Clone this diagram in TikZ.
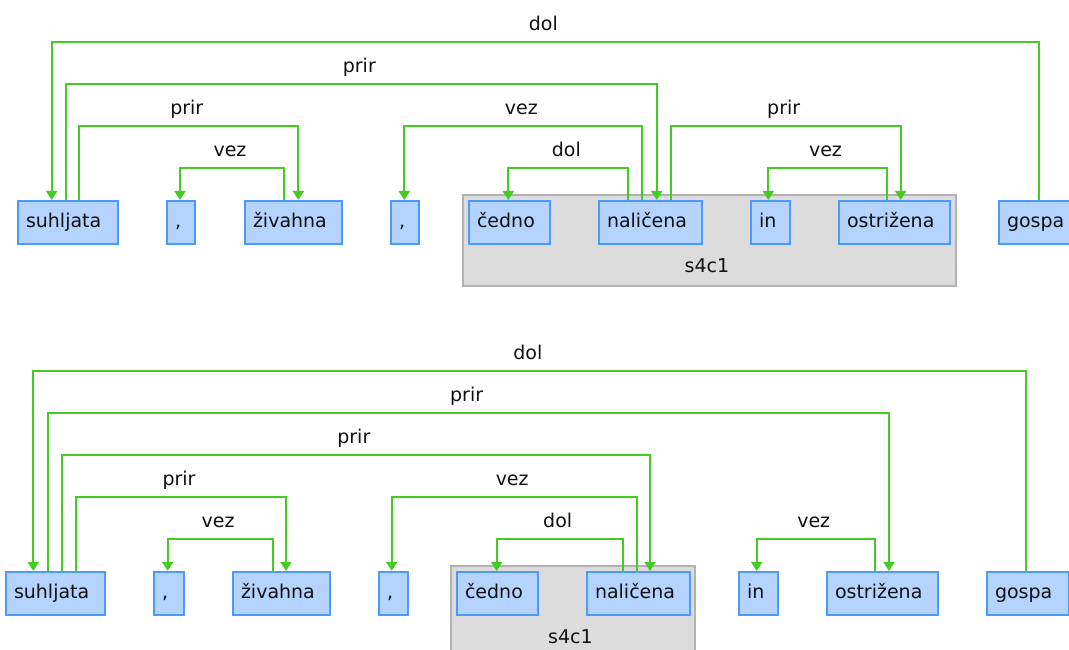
\documentclass[tikz,border=0pt]{standalone}
\usepackage{fontspec}
\setmainfont{DejaVu Sans}
\usetikzlibrary{arrows.meta}
\definecolor{lnk}{HTML}{44CC22}
\definecolor{bfill}{HTML}{B4D3FF}
\definecolor{bdraw}{HTML}{4C9AFF}
\definecolor{gfill}{HTML}{DCDCDC}
\definecolor{gdraw}{HTML}{B2B2B2}
\definecolor{txt}{HTML}{111111}
\begin{document}
\begin{tikzpicture}[x=1pt,y=-1pt,
  word/.style={draw=bdraw, fill=bfill, line width=2pt, anchor=north west,
    minimum height=43pt, inner xsep=8pt, inner ysep=0pt, align=left,
    text height=13.5pt, text depth=3.5pt,
    font=\fontsize{19}{22}\selectfont, text=txt},
  grp/.style={draw=gdraw, fill=gfill, line width=2pt, anchor=north west,
    minimum height=91pt, inner sep=0pt},
  conn/.style={draw=lnk, line width=2pt, -{Triangle[width=11pt,length=9pt]}},
  lbl/.style={font=\fontsize{19}{22}\selectfont, text=txt, inner sep=0pt},
  elbl/.style={lbl, pos=0.25, anchor=base, yshift=11.5pt, xshift=-2pt}
]
\useasboundingbox (0,0) rectangle (1069,650);
\clip (0,0) rectangle (1069,650);
\fill[white] (0,0) rectangle (1069,650);

% ---------------- top sentence ----------------
\node[grp, minimum width=493pt] (g1) at (462,194) {};
\node[lbl, anchor=base] (g1l) at ([xshift=-2.5pt,yshift=15pt]g1.south) {s4c1};

\node[word, text width=84pt] (suh1) at (17,200) {suhljata};
\node[word, text width=12pt] (c1a) at (166,200) {,};
\node[word, text width=81pt] (ziv1) at (244,200) {živahna};
\node[word, text width=12pt] (c1b) at (390,200) {,};
\node[word, text width=65pt] (ced1) at (468,200) {čedno};
\node[word, text width=87pt] (nal1) at (598,200) {naličena};
\node[word, text width=23pt] (in1) at (750,200) {in};
\node[word, text width=95pt] (ost1) at (838,200) {ostrižena};
\node[word, text width=66pt] (gos1) at (998,200) {gospa};

\draw[conn] ([xshift=41pt]gos1.north west) -- ++(0,-158)
  -| node[elbl]{dol} ([xshift=34.7pt]suh1.north west);
\draw[conn] ([xshift=49pt]suh1.north west) -- ++(0,-115.7)
  -| node[elbl]{prir} ([xshift=58.7pt]nal1.north west);
\draw[conn] ([xshift=62.3pt]suh1.north west) -- ++(0,-74)
  -| node[elbl]{prir} ([xshift=54.3pt]ziv1.north west);
\draw[conn] ([xshift=40pt]ziv1.north west) -- ++(0,-31.7)
  -| node[elbl]{vez} ([xshift=14pt]c1a.north west);
\draw[conn] ([xshift=44.3pt]nal1.north west) -- ++(0,-74)
  -| node[elbl]{vez} ([xshift=14.3pt]c1b.north west);
\draw[conn] ([xshift=30.3pt]nal1.north west) -- ++(0,-31.7)
  -| node[elbl]{dol} ([xshift=40.3pt]ced1.north west);
\draw[conn] ([xshift=72.7pt]nal1.north west) -- ++(0,-74)
  -| node[elbl]{prir} ([xshift=62.7pt]ost1.north west);
\draw[conn] ([xshift=48.7pt]ost1.north west) -- ++(0,-31.7)
  -| node[elbl]{vez} ([xshift=18.3pt]in1.north west);

% ---------------- bottom sentence ----------------
\node[grp, minimum width=244pt] (g2) at (450,565) {};
\node[lbl, anchor=base] (g2l) at ([xshift=-2.5pt,yshift=15pt]g2.south) {s4c1};

\node[word, text width=83pt] (suh2) at (5,571) {suhljata};
\node[word, text width=14pt] (c2a) at (153,571) {,};
\node[word, text width=81pt] (ziv2) at (232,571) {živahna};
\node[word, text width=13pt] (c2b) at (378,571) {,};
\node[word, text width=65pt] (ced2) at (456,571) {čedno};
\node[word, text width=87pt] (nal2) at (586,571) {naličena};
\node[word, text width=23pt] (in2) at (738,571) {in};
\node[word, text width=95pt] (ost2) at (826,571) {ostrižena};
\node[word, text width=66pt] (gos2) at (986,571) {gospa};

\draw[conn] ([xshift=40.3pt]gos2.north west) -- ++(0,-200)
  -| node[elbl]{dol} ([xshift=28.3pt]suh2.north west);
\draw[conn] ([xshift=43.3pt]suh2.north west) -- ++(0,-157.7)
  -| node[elbl]{prir} ([xshift=63pt]ost2.north west);
\draw[conn] ([xshift=56.7pt]suh2.north west) -- ++(0,-115.7)
  -| node[elbl]{prir} ([xshift=64pt]nal2.north west);
\draw[conn] ([xshift=71pt]suh2.north west) -- ++(0,-73.7)
  -| node[elbl]{prir} ([xshift=54pt]ziv2.north west);
\draw[conn] ([xshift=50.7pt]nal2.north west) -- ++(0,-73.7)
  -| node[elbl]{vez} ([xshift=13.7pt]c2b.north west);
\draw[conn] ([xshift=40.7pt]ziv2.north west) -- ++(0,-31.7)
  -| node[elbl]{vez} ([xshift=14.7pt]c2a.north west);
\draw[conn] ([xshift=36.7pt]nal2.north west) -- ++(0,-31.7)
  -| node[elbl]{dol} ([xshift=40.7pt]ced2.north west);
\draw[conn] ([xshift=48.7pt]ost2.north west) -- ++(0,-31.7)
  -| node[elbl]{vez} ([xshift=18.7pt]in2.north west);
\end{tikzpicture}
\end{document}
